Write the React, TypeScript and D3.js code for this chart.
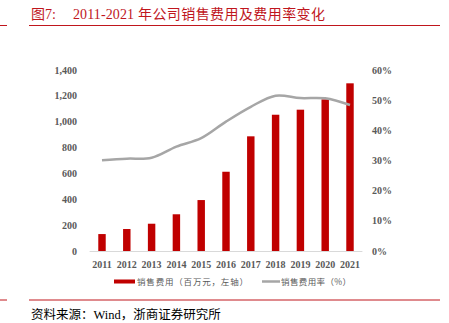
import React from "react";
import * as d3 from "d3";

const years = ["2011","2012","2013","2014","2015","2016","2017","2018","2019","2020","2021"];
const salesExpense = [131,170,211,284,394,613,887,1054,1093,1173,1297];
const expenseRate = [30.1,30.6,30.9,34.6,37.4,42.9,47.8,51.5,50.7,50.6,48.4];
const leftTicks = [0,200,400,600,800,1000,1200,1400];
const rightTicks = [0,10,20,30,40,50,60];

const W = 449, H = 323;
const RED = "#c00000";
const TITLE_RED = "#c0161d";
const GRAY_TXT = "#595959";
const serif = "'Liberation Serif','DejaVu Serif',serif";
const cjk = "'Noto Sans CJK SC',sans-serif";

export default function App() {
  const x = d3.scaleBand<string>().domain(years).range([89.6, 362.4]).paddingInner(0.7).paddingOuter(0.35);
  const yL = d3.scaleLinear().domain([0, 1400]).range([251, 70]);
  const yR = d3.scaleLinear().domain([0, 60]).range([251, 70]);
  const cx = (d: string) => (x(d) as number) + x.bandwidth() / 2;
  const line = d3.line<number>()
    .x((_, i) => cx(years[i]))
    .y((d) => yR(d))
    .curve(d3.curveCatmullRom.alpha(0.5));
  return (
    <svg width={W} height={H} style={{ position: "absolute", left: 0, top: 0, background: "#fff" }}>
      <text x={31} y={18.5} fontSize={14} fill={TITLE_RED} fontFamily={cjk}>图<tspan fontFamily={serif}>7:</tspan></text>
      <text x={73} y={18.5} fontSize={14} fill={TITLE_RED} fontFamily={serif} textLength={61}>2011-2021</text>
      <text x={138} y={18.5} fontSize={14} fill={TITLE_RED} fontFamily={cjk} textLength={187}>年公司销售费用及费用率变化</text>
      <line x1={0} x2={7} y1={25.5} y2={25.5} stroke={TITLE_RED} strokeWidth={1} />
      <line x1={29} x2={440} y1={25.5} y2={25.5} stroke={TITLE_RED} strokeWidth={1} />

      {leftTicks.map((t) => (
        <text key={"l" + t} x={77} y={yL(t)} dy="0.35em" textAnchor="end" fontSize={10} fontWeight="bold" fill={GRAY_TXT} fontFamily={serif}>{d3.format(",")(t)}</text>
      ))}
      {rightTicks.map((t) => (
        <text key={"r" + t} x={372} y={yR(t)} dy="0.35em" textAnchor="start" fontSize={10} fontWeight="bold" fill={GRAY_TXT} fontFamily={serif}>{t + "%"}</text>
      ))}

      {salesExpense.map((v, i) => (
        <rect key={years[i]} x={x(years[i])} y={yL(v)} width={x.bandwidth()} height={yL(0) - yL(v)} fill={RED} />
      ))}
      <line x1={89.6} x2={362.4} y1={251.5} y2={251.5} stroke="#d9d9d9" strokeWidth={1} />
      <path d={line(expenseRate) || ""} fill="none" stroke="#a6a6a6" strokeWidth={2.5} />

      {years.map((y) => (
        <text key={"x" + y} x={cx(y)} y={268} textAnchor="middle" fontSize={10} fontWeight="bold" fill={GRAY_TXT} fontFamily={serif}>{y}</text>
      ))}

      <rect x={114} y={279.5} width={21} height={4} fill={RED} />
      <text x={137} y={285} fontSize={8.5} fill={GRAY_TXT} fontFamily={cjk} textLength={111}>销售费用（百万元，左轴）</text>
      <line x1={262} x2={280} y1={281.5} y2={281.5} stroke="#a6a6a6" strokeWidth={2.5} />
      <text x={281} y={285} fontSize={8.5} fill={GRAY_TXT} fontFamily={cjk} textLength={70}>销售费用率（%）</text>

      <line x1={0} x2={7} y1={300} y2={300} stroke={TITLE_RED} strokeWidth={1} />
      <line x1={29} x2={440} y1={300} y2={300} stroke={TITLE_RED} strokeWidth={1} />
      <text x={31} y={318.5} fontSize={12.5} fill="#000" fontFamily={cjk}>资料来源：<tspan fontFamily={serif}>Wind</tspan>，浙商证券研究所</text>
    </svg>
  );
}
